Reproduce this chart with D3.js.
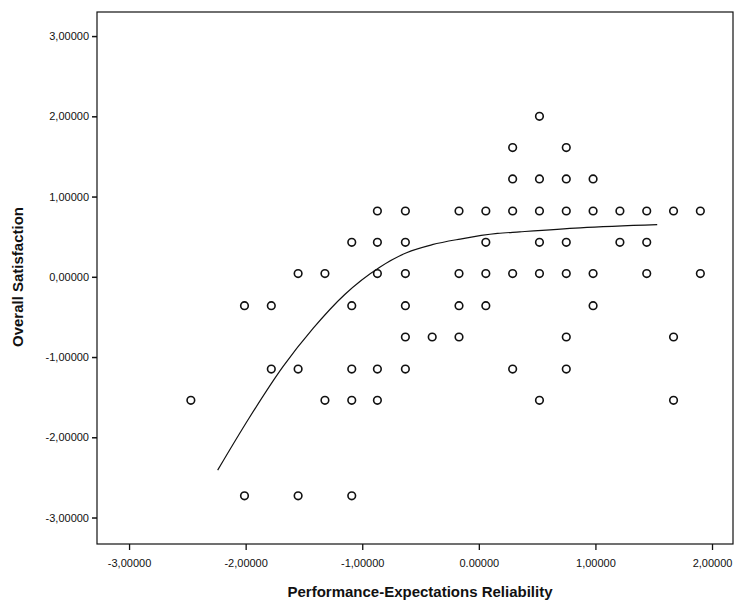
<!DOCTYPE html>
<html>
<head>
<meta charset="utf-8">
<script src="https://cdn.jsdelivr.net/npm/d3@7"></script>
<style>
  body { margin: 0; background: #fff; }
  text { font-family: "Liberation Sans", Arial, sans-serif; }
</style>
</head>
<body>
<div id="chart"></div>
<script>
// scatter points, one row of x values per y level
const yLevels = [2.0, 1.61, 1.22, 0.82, 0.43, 0.04, -0.36, -0.75, -1.15, -1.54, -2.73];
const xByLevel = [
  [0.52],
  [0.29, 0.75],
  [0.29, 0.52, 0.75, 0.98],
  [-0.87, -0.63, -0.17, 0.06, 0.29, 0.52, 0.75, 0.98, 1.21, 1.44, 1.67, 1.90],
  [-1.09, -0.87, -0.63, 0.06, 0.52, 0.75, 1.21, 1.44],
  [-1.55, -1.32, -0.87, -0.63, -0.17, 0.06, 0.29, 0.52, 0.75, 0.98, 1.44, 1.90],
  [-2.01, -1.78, -1.09, -0.63, -0.17, 0.06, 0.98],
  [-0.63, -0.40, -0.17, 0.75, 1.67],
  [-1.78, -1.55, -1.09, -0.87, -0.63, 0.29, 0.75],
  [-2.47, -1.32, -1.09, -0.87, 0.52, 1.67],
  [-2.01, -1.55, -1.09]
];

// fit line
const fitX = [-2.24, -1.97, -1.68, -1.42, -1.15, -0.85, -0.62, -0.40, -0.16, 0.16, 0.35, 0.87, 1.53];
const fitY = [-2.41, -1.76, -1.12, -0.64, -0.22, 0.12, 0.30, 0.40, 0.47, 0.54, 0.56, 0.61, 0.65];

const xTicks = [-3, -2, -1, 0, 1, 2];
const xTickLabels = ["-3,00000", "-2,00000", "-1,00000", "0.00000", "1,00000", "2,00000"];
const yTicks = [3, 2, 1, 0, -1, -2, -3];
const yTickLabels = ["3,00000", "2,00000", "1,00000", "0,00000", "-1,00000", "-2,00000", "-3,00000"];

const xTitle = "Performance-Expectations Reliability";
const yTitle = "Overall Satisfaction";

let dim = {width: 736, height: 603};
let plot = {left: 97, right: 733, top: 12, bottom: 544};

let svg = d3.select('#chart').append('svg')
    .attr('width', dim.width)
    .attr('height', dim.height);

let x = d3.scaleLinear().domain([-3.275, 2.18]).range([plot.left, plot.right]);
let y = d3.scaleLinear().domain([-3.33, 3.30]).range([plot.bottom, plot.top]);

// frame
svg.append('rect')
    .attr('x', plot.left).attr('y', plot.top)
    .attr('width', plot.right - plot.left)
    .attr('height', plot.bottom - plot.top)
    .attr('fill', 'none')
    .attr('stroke', '#111')
    .attr('stroke-width', 1.2);

// x axis
let xAxis = svg.append('g')
    .attr('transform', `translate(0,${plot.bottom})`)
    .call(d3.axisBottom(x).tickValues(xTicks)
        .tickSize(6).tickPadding(9)
        .tickFormat((d, i) => xTickLabels[i]));
xAxis.select('.domain').remove();
xAxis.selectAll('text').attr('font-size', 11).attr('fill', '#111')
    .style('font-family', '"Liberation Sans", Arial, sans-serif');
xAxis.selectAll('line').attr('stroke', '#111').attr('stroke-width', 1.3);

// y axis
let yAxis = svg.append('g')
    .attr('transform', `translate(${plot.left},0)`)
    .call(d3.axisLeft(y).tickValues(yTicks)
        .tickSize(5).tickPadding(3)
        .tickFormat((d, i) => yTickLabels[i]));
yAxis.select('.domain').remove();
yAxis.selectAll('text').attr('font-size', 11).attr('fill', '#111')
    .style('font-family', '"Liberation Sans", Arial, sans-serif');
yAxis.selectAll('line').attr('stroke', '#111').attr('stroke-width', 1.5);

// points
let points = [];
yLevels.forEach((lv, i) => {
    xByLevel[i].forEach(xv => points.push({x: xv, y: lv}));
});

svg.append('g').selectAll('circle')
    .data(points)
    .join('circle')
    .attr('cx', d => x(d.x))
    .attr('cy', d => y(d.y))
    .attr('r', 3.8)
    .attr('fill', 'none')
    .attr('stroke', '#111')
    .attr('stroke-width', 1.6);

// fit line
let fit = fitX.map((v, i) => [v, fitY[i]]);
svg.append('path')
    .datum(fit)
    .attr('d', d3.line().x(d => x(d[0])).y(d => y(d[1])).curve(d3.curveMonotoneX))
    .attr('fill', 'none')
    .attr('stroke', '#111')
    .attr('stroke-width', 1.2);

// titles
svg.append('text')
    .attr('x', 420).attr('y', 597)
    .attr('text-anchor', 'middle')
    .attr('font-size', 15).attr('font-weight', 'bold')
    .attr('fill', '#111')
    .text(xTitle);

svg.append('text')
    .attr('transform', 'translate(23,277) rotate(-90)')
    .attr('text-anchor', 'middle')
    .attr('font-size', 15).attr('font-weight', 'bold')
    .attr('fill', '#111')
    .text(yTitle);
</script>
</body>
</html>
